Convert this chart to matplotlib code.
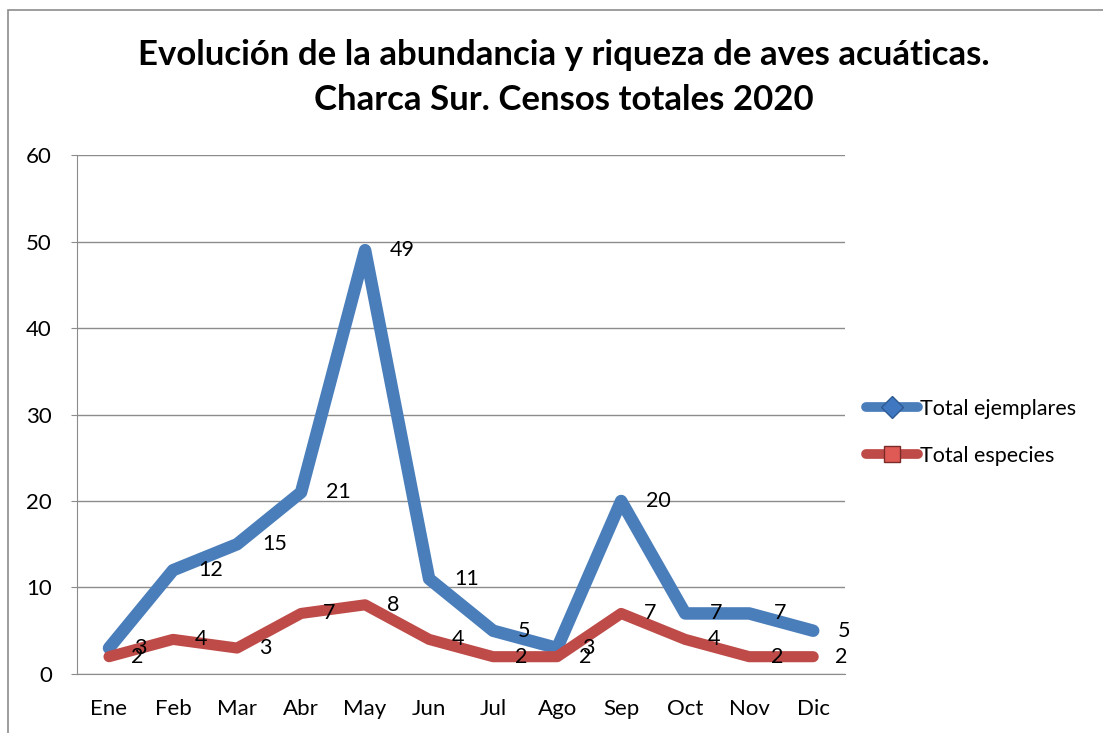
import matplotlib.pyplot as plt
from matplotlib.lines import Line2D
from matplotlib.patches import Rectangle

plt.rcParams['font.family'] = ['Lato', 'DejaVu Sans']

meses = ['Ene', 'Feb', 'Mar', 'Abr', 'May', 'Jun', 'Jul', 'Ago', 'Sep', 'Oct', 'Nov', 'Dic']
ejemplares = [3, 12, 15, 21, 49, 11, 5, 3, 20, 7, 7, 5]
especies = [2, 4, 3, 7, 8, 4, 2, 2, 7, 4, 2, 2]

azul = '#4a7ebb'
rojo = '#be4b48'

fig = plt.figure(figsize=(11.03, 7.33), dpi=100)
ax = fig.add_axes([0.0698, 0.0805, 0.6965, 0.708])

x = range(len(meses))
ax.plot(x, ejemplares, color=azul, lw=9, solid_capstyle='round', solid_joinstyle='round', zorder=3)
ax.plot(x, especies, color=rojo, lw=8, solid_capstyle='round', solid_joinstyle='round', zorder=3)

for i, v in enumerate(ejemplares):
    ax.annotate(str(v), (i, v), xytext=(18, 0), textcoords='offset points',
                ha='left', va='center', fontsize=15.5, zorder=4)
for i, v in enumerate(especies):
    ax.annotate(str(v), (i, v), xytext=(16, 0), textcoords='offset points',
                ha='left', va='center', fontsize=15.5, zorder=4)

ax.set_xlim(-0.5, 11.5)
ax.set_ylim(0, 60)
ax.set_yticks(range(0, 61, 10))
ax.set_xticks(list(x))
ax.set_xticklabels(meses)
ax.yaxis.grid(True, color='#8c8c8c', lw=1)
ax.set_axisbelow(True)
for s in ['top', 'right']:
    ax.spines[s].set_visible(False)
for s in ['left', 'bottom']:
    ax.spines[s].set_color('#8c8c8c')
ax.tick_params(axis='y', length=4, color='#8c8c8c', labelsize=16, pad=14)
ax.tick_params(axis='x', length=0, labelsize=16, pad=18)

handles = [
    Line2D([], [], color=azul, lw=7, solid_capstyle='round', marker='D', markersize=11,
           markerfacecolor='#3f78c0', markeredgecolor='#2d5a93'),
    Line2D([], [], color=rojo, lw=7, solid_capstyle='round', marker='s', markersize=11,
           markerfacecolor='#e05a55', markeredgecolor='#7a2a28'),
]
fig.legend(handles, ['Total ejemplares', 'Total especies'], loc='center left',
           bbox_to_anchor=(0.768, 0.41), frameon=False, fontsize=15.5,
           handlelength=2.4, handletextpad=0.1, labelspacing=1.25)

fig.text(0.511, 0.894, 'Evolución de la abundancia y riqueza de aves acuáticas.\nCharca Sur. Censos totales 2020',
         ha='center', va='center', fontsize=25, fontweight='bold', linespacing=1.5)

fig.patches.append(Rectangle((8 / 1103, -0.1), 1.2, 1.1 - 10 / 733, transform=fig.transFigure,
                             fill=False, edgecolor='#8c8c8c', lw=1.2))

fig.savefig('out.png', dpi=100)
